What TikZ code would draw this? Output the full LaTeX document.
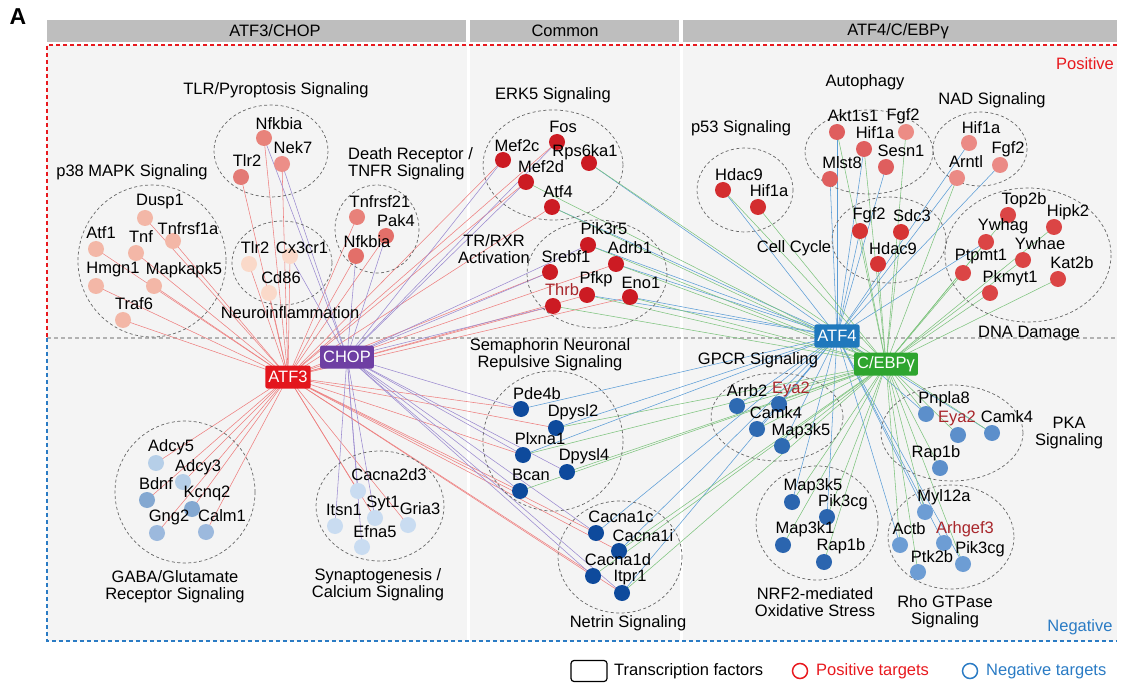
\documentclass[tikz,border=0pt]{standalone}
\usepackage{fontspec}
\setmainfont{Liberation Sans}
\usepackage{tikz}

\definecolor{tfred}{HTML}{E3161D}
\definecolor{tfpurple}{HTML}{6E3FA3}
\definecolor{tfblue}{HTML}{1F78BC}
\definecolor{tfgreen}{HTML}{2EA52F}
\definecolor{edred}{HTML}{EE7F7F}
\definecolor{edpurple}{HTML}{9C8BD0}
\definecolor{edblue}{HTML}{5C9DD6}
\definecolor{edgreen}{HTML}{7EC47E}
\definecolor{hdrgray}{HTML}{BEBEBE}
\definecolor{panelgray}{HTML}{F4F4F4}
\definecolor{posred}{HTML}{E8191E}
\definecolor{negblue}{HTML}{2A7BC4}
\definecolor{txtred}{HTML}{A8262B}
\definecolor{pthreeC}{HTML}{F3B7A7}
\definecolor{neuroC}{HTML}{FAD9C9}
\definecolor{tlrA}{HTML}{E8837B}
\definecolor{tlrB}{HTML}{EC8E88}
\definecolor{tlrC}{HTML}{E37A75}
\definecolor{deathA}{HTML}{E8817A}
\definecolor{deathB}{HTML}{E36F69}
\definecolor{dkred}{HTML}{CC1B23}
\definecolor{pfiftyC}{HTML}{D32D2F}
\definecolor{autoA}{HTML}{DF5E5E}
\definecolor{autoB}{HTML}{EC8C85}
\definecolor{nadC}{HTML}{EB8A85}
\definecolor{ccC}{HTML}{D63434}
\definecolor{dnaC}{HTML}{DB4545}
\definecolor{gabaA}{HTML}{B6CFE8}
\definecolor{gabaB}{HTML}{84A8D1}
\definecolor{gabaC}{HTML}{9CB9DD}
\definecolor{synC}{HTML}{C9DCF1}
\definecolor{semaC}{HTML}{0E4A9C}
\definecolor{gpcrC}{HTML}{2E6AB2}
\definecolor{nrfC}{HTML}{2B65AF}
\definecolor{pkaC}{HTML}{5C8FCB}
\definecolor{rhoC}{HTML}{6D9DD4}

\pgfdeclarelayer{bg}
\pgfdeclarelayer{edges}
\pgfsetlayers{bg,edges,main}

\newcommand{\genefont}{\fontsize{16.5}{17}\selectfont}

\tikzset{
  dot/.style={circle,inner sep=0pt,minimum size=16pt},
  lbl/.style={inner sep=0pt,font=\genefont,align=center},
  tf/.style={rounded corners=2pt,text=white,inner xsep=3pt,inner ysep=0pt,minimum height=23pt,font=\genefont},
  grp/.style={draw=black!60,dash pattern=on 3pt off 2.5pt,line width=0.7pt},
  e3/.style={edred,line width=0.55pt},
  ec/.style={edpurple,line width=0.55pt},
  e4/.style={edblue,line width=0.55pt},
  eg/.style={edgreen,line width=0.55pt},
  posline/.style={posred,line width=1.4pt,dash pattern=on 4pt off 3pt},
  negline/.style={negblue,line width=1.4pt,dash pattern=on 4pt off 3pt},
  midline/.style={black!30,line width=1.2pt,dash pattern=on 4pt off 3pt},
}

\newcommand{\gene}[5]{%
  \node[dot,fill=#2] (#1) at (#3) {};
  \node[lbl] (#1-l) at (#4) {#5};%
}

\begin{document}
\begin{tikzpicture}[x=1pt,y=-1pt]
  \useasboundingbox (0,0) rectangle (1121,684);

  % Panel and headers
  \begin{pgfonlayer}{bg}
    \fill[panelgray] (47,45) rectangle (1117,641);
    \fill[white] (467,45) rectangle (470,641);
    \fill[white] (680,45) rectangle (683,641);
    \fill[hdrgray] (47,20) rectangle (466,42);
    \fill[hdrgray] (470,20) rectangle (679,42);
    \fill[hdrgray] (683,20) rectangle (1117,42);
    \draw[midline] (47,338) -- (1117,338);
    \draw[posline] (1117,45) -- (47,45) -- (47,338);
    \draw[negline] (47,338) -- (47,641) -- (1117,641);
  \end{pgfonlayer}
  \node[font=\bfseries\fontsize{23}{23}\selectfont] (panelA) at (18,17) {A};
  \node[lbl] (hLeft) at (275,31) {ATF3/CHOP};
  \node[lbl] (hMid) at (565,31) {Common};
  \node[lbl] (hRight) at (898,31) {ATF4/C/EBPγ};
  \node[lbl,text=posred] (pos) at (1085,64) {Positive};
  \node[lbl,text=negblue] (neg) at (1080,627) {Negative};

  % Groups
  \draw[grp] (271,151) ellipse [x radius=57,y radius=46];
  \draw[grp] (152,261) ellipse [x radius=74,y radius=76];
  \draw[grp] (282,263) ellipse [x radius=50,y radius=42];
  \draw[grp] (377,229) ellipse [x radius=42,y radius=44];
  \draw[grp] (553,165) ellipse [x radius=70,y radius=55];
  \draw[grp] (597,274) ellipse [x radius=70,y radius=54];
  \draw[grp] (745,190) ellipse [x radius=48,y radius=42];
  \draw[grp] (869,152) ellipse [x radius=64,y radius=42];
  \draw[grp] (980,149) ellipse [x radius=47,y radius=37];
  \draw[grp] (889,240) ellipse [x radius=57,y radius=43];
  \draw[grp] (1028,255) ellipse [x radius=83,y radius=67];
  \draw[grp] (185,492) ellipse [x radius=70,y radius=71];
  \draw[grp] (380,506) ellipse [x radius=64,y radius=55];
  \draw[grp] (553,441) ellipse [x radius=70,y radius=70];
  \draw[grp] (620,557) ellipse [x radius=62,y radius=56];
  \draw[grp] (777,417) ellipse [x radius=66,y radius=44];
  \draw[grp] (952,433) ellipse [x radius=71,y radius=48];
  \draw[grp] (817,523) ellipse [x radius=61,y radius=57];
  \draw[grp] (951,537) ellipse [x radius=63,y radius=52];

  \node[lbl] (gTLR) at (276,90) {TLR/Pyroptosis Signaling};
  \node[lbl] (gP38) at (132,172) {p38 MAPK Signaling};
  \node[lbl,align=left,anchor=west] (gDeath) at (348,164) {Death Receptor /\\TNFR Signaling};
  \node[lbl] (gNeuro) at (290,313) {Neuroinflammation};
  \node[lbl] (gERK) at (553,95) {ERK5 Signaling};
  \node[lbl] (gTR) at (494,249) {TR/RXR\\Activation};
  \node[lbl] (gP53) at (741,128) {p53 Signaling};
  \node[lbl] (gAuto) at (865,82) {Autophagy};
  \node[lbl] (gNAD) at (992,100) {NAD Signaling};
  \node[lbl] (gCC) at (794,248) {Cell Cycle};
  \node[lbl] (gDNA) at (1029,334) {DNA Damage};
  \node[lbl] (gGABA) at (175,587) {GABA/Glutamate\\Receptor Signaling};
  \node[lbl] (gSyn) at (378,585) {Synaptogenesis /\\Calcium Signaling};
  \node[lbl] (gSema) at (550,355) {Semaphorin Neuronal\\Repulsive Signaling};
  \node[lbl] (gNet) at (628,623) {Netrin Signaling};
  \node[lbl] (gGPCR) at (758,360) {GPCR Signaling};
  \node[lbl] (gPKA) at (1069,433) {PKA\\Signaling};
  \node[lbl] (gNRF) at (815,602) {NRF2-mediated\\Oxidative Stress};
  \node[lbl] (gRho) at (945,612) {Rho GTPase\\Signaling};

  % Transcription factors
  \node[tf,fill=tfred] (atf3) at (288,377) {ATF3};
  \node[tf,fill=tfpurple] (chop) at (347,357) {CHOP};
  \node[tf,fill=tfblue] (atf4) at (837,336) {ATF4};
  \node[tf,fill=tfgreen] (cebp) at (886,364) {C/EBPγ};

  % Targets: ATF3/CHOP
  \gene{tNfkbia}{tlrA}{264,138}{279,124}{Nfkbia}
  \gene{tNek7}{tlrB}{282,164}{293,148}{Nek7}
  \gene{tTlr2}{tlrC}{241,177}{247,161}{Tlr2}
  \gene{pDusp1}{pthreeC}{145,218}{160,202}{Dusp1}
  \gene{pAtf1}{pthreeC}{96,249}{101,233}{Atf1}
  \gene{pTnf}{pthreeC}{136,253}{141,237}{Tnf}
  \gene{pTnfrsf1a}{pthreeC}{173,241}{188,229}{Tnfrsf1a}
  \gene{pHmgn1}{pthreeC}{96,286}{113,270}{Hmgn1}
  \gene{pMapkapk5}{pthreeC}{154,286}{184,270}{Mapkapk5}
  \gene{pTraf6}{pthreeC}{123,320}{134,304}{Traf6}
  \gene{nTlr2}{neuroC}{249,264}{255,248}{Tlr2}
  \gene{nCx3cr1}{neuroC}{290,256}{302,248}{Cx3cr1}
  \gene{nCd86}{neuroC}{269,293}{281,278}{Cd86}
  \gene{dTnfrsf21}{deathA}{357,217}{380,202}{Tnfrsf21}
  \gene{dPak4}{deathB}{386,236}{396,221}{Pak4}
  \gene{dNfkbia}{deathB}{356,256}{367,242}{Nfkbia}
  \gene{gAdcy5}{gabaA}{156,463}{171,447}{Adcy5}
  \gene{gAdcy3}{gabaA}{183,482}{198,467}{Adcy3}
  \gene{gBdnf}{gabaB}{147,500}{156,484}{Bdnf}
  \gene{gKcnq2}{gabaB}{192,509}{207,493}{Kcnq2}
  \gene{gGng2}{gabaC}{157,533}{169,517}{Gng2}
  \gene{gCalm1}{gabaC}{206,532}{222,516}{Calm1}
  \gene{sCacna2d3}{synC}{358,491}{389,475}{Cacna2d3}
  \gene{sItsn1}{synC}{335,526}{344,510}{Itsn1}
  \gene{sSyt1}{synC}{375,518}{383,503}{Syt1}
  \gene{sGria3}{synC}{408,525}{420,509}{Gria3}
  \gene{sEfna5}{synC}{362,547}{375,532}{Efna5}

  % Targets: common
  \gene{eFos}{dkred}{557,142}{563,127}{Fos}
  \gene{eMef2c}{dkred}{503,160}{517,146}{Mef2c}
  \gene{eRps6ka1}{dkred}{589,163}{585,152}{Rps6ka1}
  \gene{eMef2d}{dkred}{526,182}{541,167}{Mef2d}
  \gene{eAtf4}{dkred}{552,207}{558,192}{Atf4}
  \gene{rPik3r5}{dkred}{588,245}{604,229}{Pik3r5}
  \gene{rSrebf1}{dkred}{550,272}{566,257}{Srebf1}
  \gene{rAdrb1}{dkred}{616,264}{630,248}{Adrb1}
  \gene{rPfkp}{dkred}{587,295}{596,279}{Pfkp}
  \gene{rEno1}{dkred}{630,297}{641,283}{Eno1}
  \gene{rThrb}{dkred}{553,306}{562,290}{\color{txtred}Thrb}
  \gene{mPde4b}{semaC}{521,409}{537,394}{Pde4b}
  \gene{mDpysl2}{semaC}{556,428}{573,412}{Dpysl2}
  \gene{mPlxna1}{semaC}{523,455}{540,439}{Plxna1}
  \gene{mDpysl4}{semaC}{567,472}{584,456}{Dpysl4}
  \gene{mBcan}{semaC}{520,491}{531,475}{Bcan}
  \gene{neCacna1c}{semaC}{596,533}{621,517}{Cacna1c}
  \gene{neCacna1i}{semaC}{619,551}{643,536}{Cacna1i}
  \gene{neCacna1d}{semaC}{593,576}{618,560}{Cacna1d}
  \gene{neItpr1}{semaC}{622,593}{630,578}{Itpr1}

  % Targets: ATF4/C/EBPg
  \gene{qHdac9}{pfiftyC}{723,190}{739,175}{Hdac9}
  \gene{qHif1a}{pfiftyC}{758,207}{769,191}{Hif1a}
  \gene{aAkt1s1}{autoA}{837,132}{853,116}{Akt1s1}
  \gene{aFgf2}{autoB}{906,132}{903,116}{Fgf2}
  \gene{aHif1a}{autoA}{864,149}{875,133}{Hif1a}
  \gene{aSesn1}{autoA}{886,167}{901,151}{Sesn1}
  \gene{aMlst8}{autoA}{830,179}{842,163}{Mlst8}
  \gene{nadHif1a}{nadC}{969,143}{981,128}{Hif1a}
  \gene{nadFgf2}{nadC}{1000,165}{1008,149}{Fgf2}
  \gene{nadArntl}{nadC}{957,178}{966,162}{Arntl}
  \gene{cFgf2}{ccC}{860,231}{869,215}{Fgf2}
  \gene{cSdc3}{ccC}{901,232}{912,216}{Sdc3}
  \gene{cHdac9}{ccC}{878,264}{893,249}{Hdac9}
  \gene{dnTop2b}{dnaC}{1008,215}{1024,200}{Top2b}
  \gene{dnHipk2}{dnaC}{1054,227}{1068,212}{Hipk2}
  \gene{dnYwhag}{dnaC}{986,242}{1003,226}{Ywhag}
  \gene{dnYwhae}{dnaC}{1023,260}{1040,244}{Ywhae}
  \gene{dnPtpmt1}{dnaC}{963,273}{981,257}{Ptpmt1}
  \gene{dnKat2b}{dnaC}{1058,279}{1072,263}{Kat2b}
  \gene{dnPkmyt1}{dnaC}{990,293}{1010,278}{Pkmyt1}
  \gene{gpArrb2}{gpcrC}{737,406}{747,391}{Arrb2}
  \gene{gpEya2}{gpcrC}{779,404}{791,389}{\color{txtred}Eya2}
  \gene{gpCamk4}{gpcrC}{757,429}{776,413}{Camk4}
  \gene{gpMap3k5}{gpcrC}{782,446}{801,431}{Map3k5}
  \gene{kPnpla8}{pkaC}{926,414}{944,399}{Pnpla8}
  \gene{kEya2}{pkaC}{958,435}{957,418}{\color{txtred}Eya2}
  \gene{kCamk4}{pkaC}{992,433}{1007,417}{Camk4}
  \gene{kRap1b}{pkaC}{940,468}{936,453}{Rap1b}
  \gene{oMap3k5}{nrfC}{792,502}{813,486}{Map3k5}
  \gene{oPik3cg}{nrfC}{827,517}{843,502}{Pik3cg}
  \gene{oMap3k1}{nrfC}{783,545}{805,529}{Map3k1}
  \gene{oRap1b}{nrfC}{824,562}{841,546}{Rap1b}
  \gene{hMyl12a}{rhoC}{925,512}{944,497}{Myl12a}
  \gene{hActb}{rhoC}{900,545}{909,529}{Actb}
  \gene{hArhgef3}{rhoC}{944,543}{965,529}{\color{txtred}Arhgef3}
  \gene{hPtk2b}{rhoC}{918,572}{932,557}{Ptk2b}
  \gene{hPik3cg}{rhoC}{963,564}{980,549}{Pik3cg}

  % Edges
  \begin{pgfonlayer}{edges}
    \foreach \t in {tNfkbia,tNek7,tTlr2,pDusp1,pAtf1,pTnf,pTnfrsf1a,pHmgn1,pMapkapk5,pTraf6,
        nTlr2,nCx3cr1,nCd86,dTnfrsf21,dPak4,dNfkbia,gAdcy5,gAdcy3,gBdnf,gKcnq2,gGng2,gCalm1,
        sCacna2d3,sSyt1,sGria3,eMef2c,eMef2d,eAtf4,eFos,rSrebf1,rThrb,rPfkp,rEno1,rAdrb1,
        mPde4b,mPlxna1,mBcan,mDpysl2,neCacna1c,neCacna1d,neItpr1,neCacna1i}
      \draw[e3] (atf3.center) -- (\t.center);
    \foreach \t in {tNfkbia,tNek7,nCx3cr1,dPak4,dNfkbia,sCacna2d3,sItsn1,sSyt1,sEfna5,
        eMef2c,eMef2d,eFos,rSrebf1,rPik3r5,rThrb,mPde4b,mPlxna1,mBcan,mDpysl4,
        neCacna1c,neCacna1d,neItpr1}
      \draw[ec] (chop.center) -- (\t.center);
    \foreach \t in {qHdac9,aAkt1s1,aHif1a,aMlst8,aSesn1,nadHif1a,nadArntl,nadFgf2,cFgf2,dnYwhag,
        eRps6ka1,eAtf4,rPik3r5,rAdrb1,rPfkp,rEno1,mPde4b,mDpysl2,mPlxna1,
        neCacna1c,neCacna1i,neItpr1,gpArrb2,gpEya2,gpCamk4,gpMap3k5,kPnpla8,kCamk4,
        oMap3k5,oPik3cg,hMyl12a,hArhgef3,hPik3cg,hActb}
      \draw[e4] (atf4.center) -- (\t.center);
    \foreach \t in {qHdac9,qHif1a,aAkt1s1,aHif1a,aFgf2,cFgf2,cSdc3,cHdac9,dnTop2b,dnHipk2,
        dnYwhag,dnYwhae,dnPtpmt1,dnKat2b,dnPkmyt1,nadArntl,eRps6ka1,eMef2d,eAtf4,
        rPik3r5,rAdrb1,rPfkp,rEno1,rThrb,mDpysl2,mPlxna1,mDpysl4,mBcan,
        neCacna1i,neCacna1d,neItpr1,gpArrb2,gpCamk4,gpMap3k5,gpEya2,kCamk4,kEya2,kRap1b,
        kPnpla8,oMap3k5,oPik3cg,oMap3k1,oRap1b,hMyl12a,hPtk2b,hPik3cg,hActb}
      \draw[eg] (cebp.center) -- (\t.center);
  \end{pgfonlayer}

  % Legend
  \node[draw,line width=1.2pt,rounded corners=3pt,minimum width=36pt,minimum height=21pt] (legTF) at (589,671) {};
  \node[lbl,anchor=west] (legTFl) at (614,671) {Transcription factors};
  \node[circle,draw=posred,line width=1.5pt,minimum size=15pt,inner sep=0pt] (legPos) at (800,671) {};
  \node[lbl,anchor=west,text=posred] (legPosl) at (816,671) {Positive targets};
  \node[circle,draw=negblue,line width=1.5pt,minimum size=15pt,inner sep=0pt] (legNeg) at (970,671) {};
  \node[lbl,anchor=west,text=negblue] (legNegl) at (986,671) {Negative targets};
\end{tikzpicture}
\end{document}
